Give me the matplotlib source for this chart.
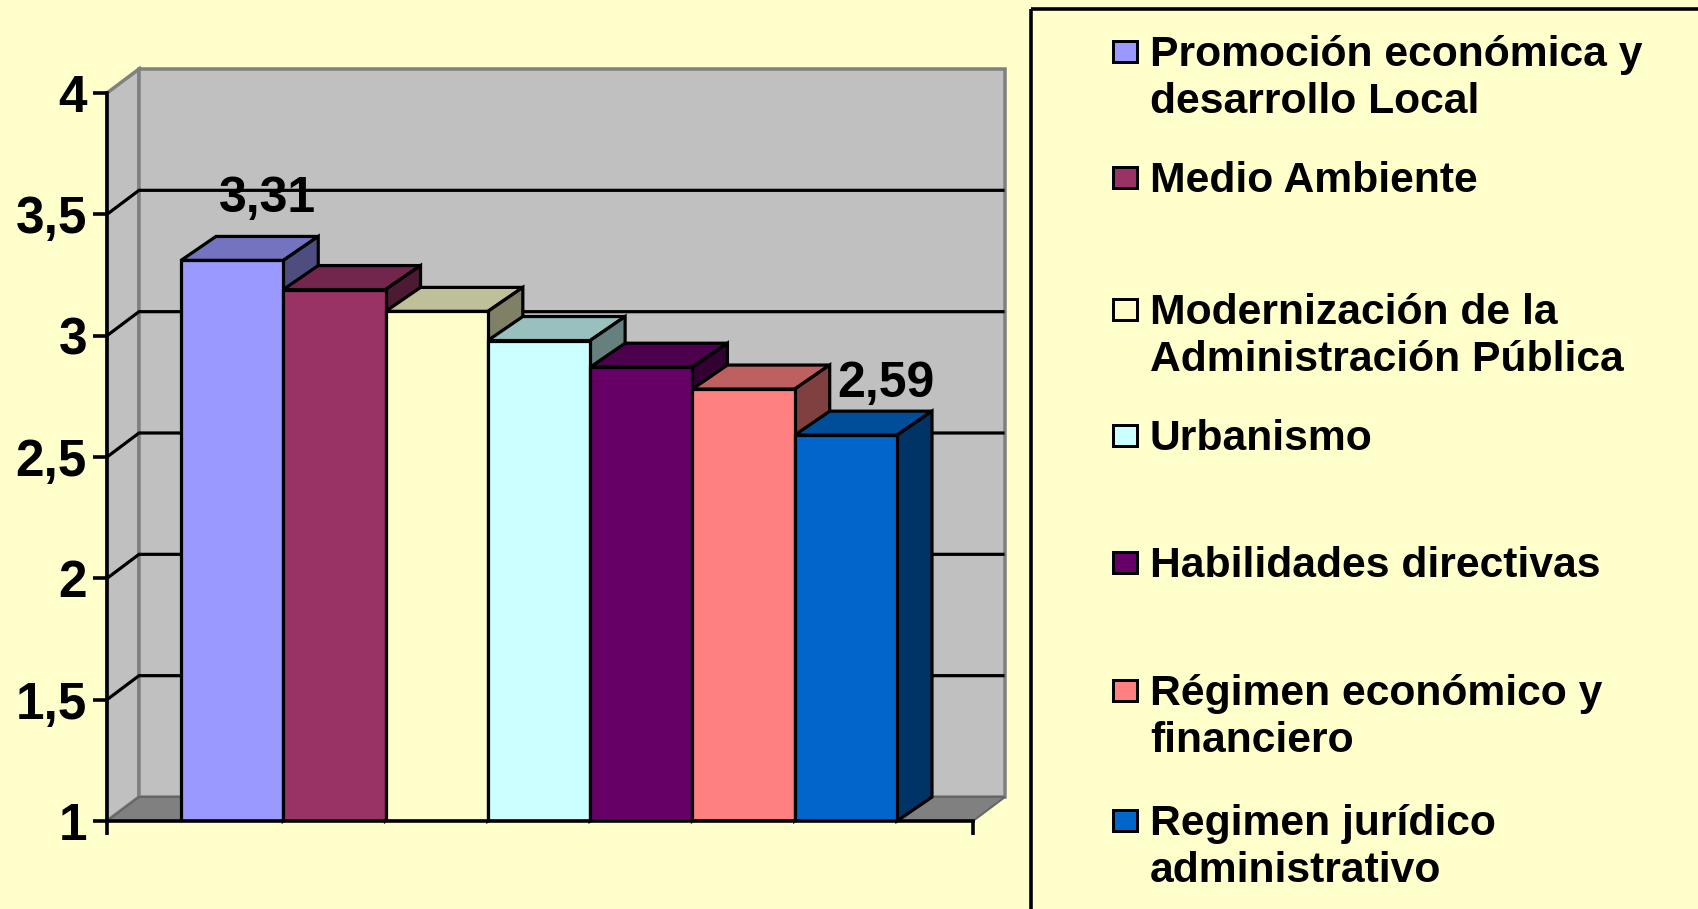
import numpy as np
import matplotlib
matplotlib.use("Agg")
import matplotlib.pyplot as plt
from matplotlib.patches import Polygon, Rectangle

plt.rcParams['font.family'] = ['Liberation Sans', 'DejaVu Sans']
plt.rcParams['font.weight'] = 'bold'

categories = ["Promoción económica y\ndesarrollo Local", "Medio Ambiente",
              "Modernización de la\nAdministración Pública", "Urbanismo",
              "Habilidades directivas", "Régimen económico y\nfinanciero",
              "Regimen jurídico\nadministrativo"]
values = [3.31, 3.19, 3.10, 2.98, 2.87, 2.78, 2.59]
bar_colors = ['#9999FF', '#993366', '#FFFFCC', '#CCFFFF', '#660066', '#FF8080', '#0066CC']
y_ticks = [1, 1.5, 2, 2.5, 3, 3.5, 4]
y_labels = ['1', '1,5', '2', '2,5', '3', '3,5', '4']
bar_labels = {0: '3,31', 6: '2,59'}

W, H = 1699, 909
BG = '#FFFFCC'
px = 72 / 100  # one pixel in points

fig = plt.figure(figsize=(W / 100, H / 100), dpi=100, facecolor=BG)
ax = fig.add_axes([107 / W, 1 - 821 / H, (973 - 107) / W, (821 - 93) / H], facecolor='none')
xmin, xmax = -1.223, 7.243
ax.set_xlim(xmin, xmax)
ax.set_ylim(1, 4)

# depth of the fake 3d, in data units
wall_dx = 32 / 102.3
bar_dx = 35 / 102.3
dy = 24 / 242.67


def poly(pts, face, edge='black', lw=3.2, z=3):
    ax.add_patch(Polygon(pts, closed=True, facecolor=face, edgecolor=edge,
                         linewidth=lw * px, joinstyle='miter', clip_on=False, zorder=z))


def shade(col, f):
    return tuple(c * f for c in matplotlib.colors.to_rgb(col))


# walls and floor
poly([(xmin, 1), (xmin + wall_dx, 1 + dy), (xmin + wall_dx, 4 + dy), (xmin, 4)], '#C0C0C0', '#808080', 3.5, 1)
poly([(xmin + wall_dx, 1 + dy), (xmax + wall_dx, 1 + dy), (xmax + wall_dx, 4 + dy), (xmin + wall_dx, 4 + dy)],
     '#C0C0C0', '#808080', 3.5, 1)
poly([(xmin, 1), (xmin + wall_dx, 1 + dy), (xmax + wall_dx, 1 + dy), (xmax, 1)], '#808080', '#666666', 2, 1.1)

# gridlines on both walls
for t in y_ticks[1:-1]:
    ax.plot([xmin, xmin + wall_dx, xmax + wall_dx - 0.02], [t, t + dy, t + dy], color='black',
            lw=3.2 * px, clip_on=False, zorder=1.5, solid_joinstyle='miter')

# bars, left to right so each front hides the previous side
for i, (v, c) in enumerate(zip(values, bar_colors)):
    l, r = i - 0.5, i + 0.5
    poly([(l, v), (l + bar_dx, v + dy), (r + bar_dx, v + dy), (r, v)], shade(c, 0.75))
    poly([(r, 1), (r + bar_dx, 1 + dy), (r + bar_dx, v + dy), (r, v)], shade(c, 0.5))
    ax.bar(i, v - 1, bottom=1, width=1, color=c, edgecolor='black', linewidth=3.2 * px, zorder=3.1)

# data labels
offsets = {0: (35, 48), 6: (40, 38)}
for i, s in bar_labels.items():
    ax.annotate(s, (i, values[i]), xytext=(offsets[i][0] * px, offsets[i][1] * px),
                textcoords='offset points', ha='center', va='baseline',
                fontsize=36, fontweight='bold', color='black', zorder=5)

for s in ['top', 'right']:
    ax.spines[s].set_visible(False)
for s in ['left', 'bottom']:
    ax.spines[s].set_linewidth(3.6 * px)
    ax.spines[s].set_zorder(4)
ax.set_yticks(y_ticks)
ax.set_yticklabels(y_labels, fontsize=37, fontweight='bold')
ax.set_xticks([xmin, xmax])
ax.set_xticklabels(['', ''])
ax.tick_params(axis='both', direction='out', length=14 * px, width=3.6 * px, color='black')
ax.tick_params(axis='y', pad=6 * px)

# legend panel, it runs off the right and bottom of the picture
lg = fig.add_axes([0, 0, 1, 1], facecolor='none')
lg.set_xlim(0, W)
lg.set_ylim(H, 0)
lg.axis('off')
lg.add_patch(Rectangle((1031, 9), 800, 1000, facecolor='none', edgecolor='black', linewidth=3.6 * px))
legend_first_baseline = [66, 192, 324, 450, 577, 705, 835]
for name, col, b in zip(categories, bar_colors, legend_first_baseline):
    lg.add_patch(Rectangle((1113, b - 25), 24, 21, facecolor=col, edgecolor='black', linewidth=3 * px))
    for j, line in enumerate(name.split('\n')):
        lg.text(1150, b + j * 47, line, fontsize=30.7, fontweight='bold', va='baseline', ha='left', color='black')

fig.savefig('out.png', dpi=100, facecolor=BG)
